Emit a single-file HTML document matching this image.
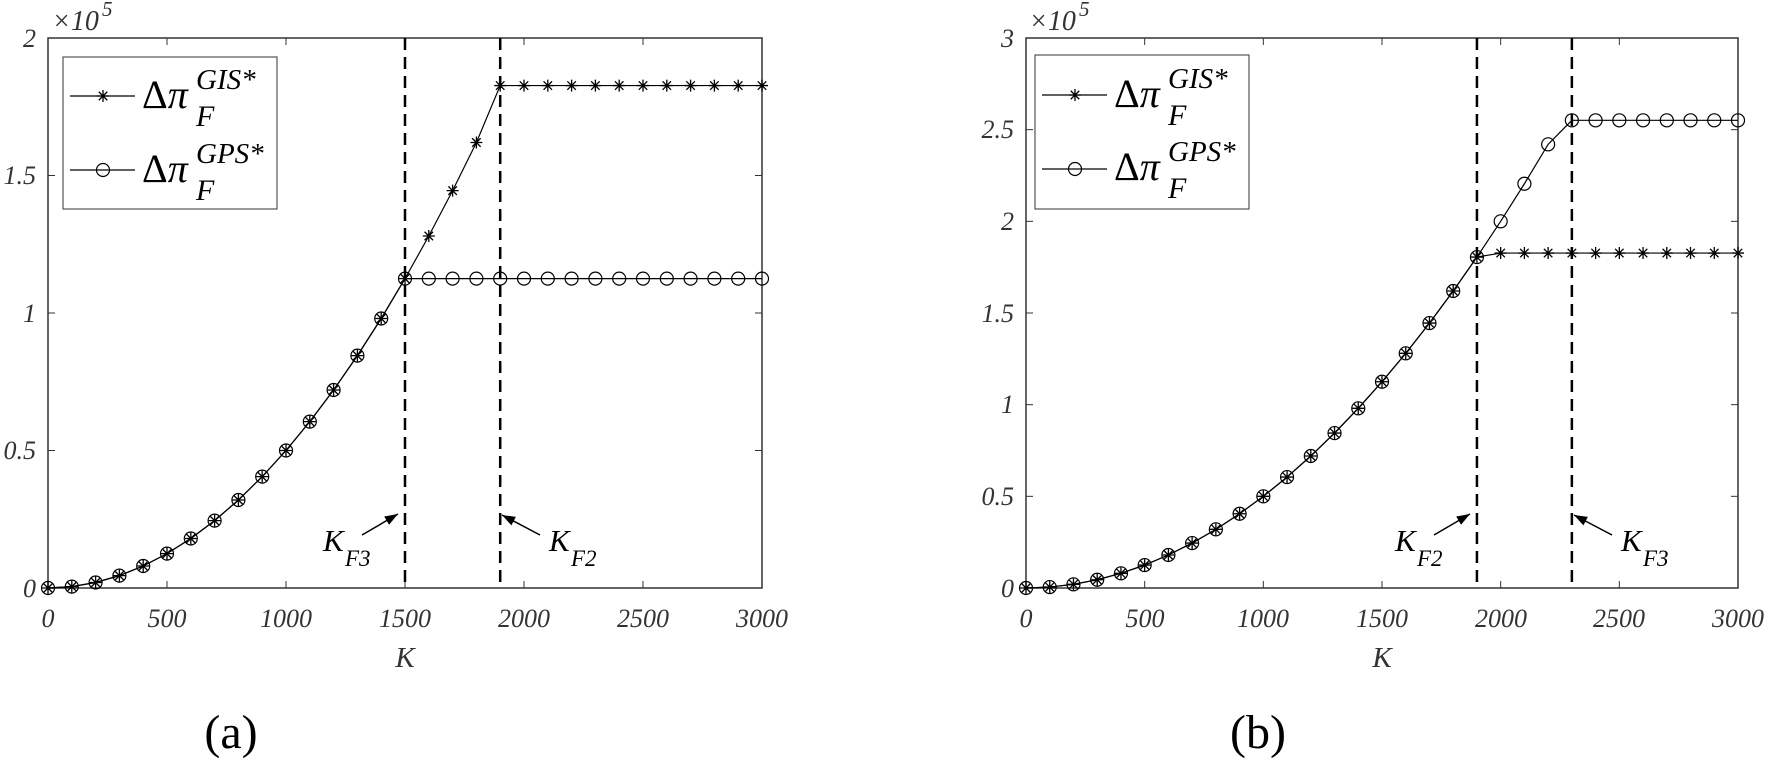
<!DOCTYPE html>
<html><head><meta charset="utf-8"><style>
html,body{margin:0;padding:0;background:#fff;}
text{font-family:"Liberation Serif","DejaVu Serif",serif !important;}
.t{font-size:26px;font-style:italic;fill:#333;}
</style></head><body>
<svg id="s" width="1769" height="761" xmlns="http://www.w3.org/2000/svg">
<g id="g"></g>
<g class="t">
<text x="36" y="47" text-anchor="end">2</text>
<text x="36" y="184" text-anchor="end">1.5</text>
<text x="36" y="322" text-anchor="end">1</text>
<text x="36" y="459" text-anchor="end">0.5</text>
<text x="36" y="597" text-anchor="end">0</text>
<text x="48" y="627" text-anchor="middle">0</text>
<text x="167" y="627" text-anchor="middle">500</text>
<text x="286" y="627" text-anchor="middle">1000</text>
<text x="405" y="627" text-anchor="middle">1500</text>
<text x="524" y="627" text-anchor="middle">2000</text>
<text x="643" y="627" text-anchor="middle">2500</text>
<text x="762" y="627" text-anchor="middle">3000</text>
<text x="405" y="667" text-anchor="middle" font-size="29">K</text>
<text x="52" y="30" font-size="28">×10</text><text x="102" y="16" font-size="21">5</text>
<text x="323" y="551" font-size="31" fill="#000">K</text><text x="345" y="566" font-size="23" fill="#000">F3</text>
<text x="549" y="551" font-size="31" fill="#000">K</text><text x="571" y="566" font-size="23" fill="#000">F2</text>
</g>
<g class="t">
<text x="1014" y="47" text-anchor="end">3</text>
<text x="1014" y="138" text-anchor="end">2.5</text>
<text x="1014" y="230" text-anchor="end">2</text>
<text x="1014" y="322" text-anchor="end">1.5</text>
<text x="1014" y="413" text-anchor="end">1</text>
<text x="1014" y="505" text-anchor="end">0.5</text>
<text x="1014" y="597" text-anchor="end">0</text>
<text x="1026" y="627" text-anchor="middle">0</text>
<text x="1145" y="627" text-anchor="middle">500</text>
<text x="1263" y="627" text-anchor="middle">1000</text>
<text x="1382" y="627" text-anchor="middle">1500</text>
<text x="1501" y="627" text-anchor="middle">2000</text>
<text x="1619" y="627" text-anchor="middle">2500</text>
<text x="1738" y="627" text-anchor="middle">3000</text>
<text x="1382" y="667" text-anchor="middle" font-size="29">K</text>
<text x="1029" y="30" font-size="28">×10</text><text x="1079" y="16" font-size="21">5</text>
<text x="1395" y="551" font-size="31" fill="#000">K</text><text x="1417" y="566" font-size="23" fill="#000">F2</text>
<text x="1621" y="551" font-size="31" fill="#000">K</text><text x="1643" y="566" font-size="23" fill="#000">F3</text>
</g>
<g fill="#000">
<rect x="63" y="57" width="214" height="152" fill="#fff" stroke="#555" stroke-width="1.2"/>
<text x="142" y="108" font-size="40">Δ<tspan font-style="italic">π</tspan></text>
<text x="196" y="89" font-size="29" font-style="italic">GIS*</text>
<text x="196" y="126" font-size="30" font-style="italic">F</text>
<text x="142" y="182" font-size="40">Δ<tspan font-style="italic">π</tspan></text>
<text x="196" y="163" font-size="29" font-style="italic">GPS*</text>
<text x="196" y="200" font-size="30" font-style="italic">F</text>
<rect x="1035" y="55" width="214" height="154" fill="#fff" stroke="#555" stroke-width="1.2"/>
<text x="1114" y="107" font-size="40">Δ<tspan font-style="italic">π</tspan></text>
<text x="1168" y="88" font-size="29" font-style="italic">GIS*</text>
<text x="1168" y="125" font-size="30" font-style="italic">F</text>
<text x="1114" y="180" font-size="40">Δ<tspan font-style="italic">π</tspan></text>
<text x="1168" y="161" font-size="29" font-style="italic">GPS*</text>
<text x="1168" y="198" font-size="30" font-style="italic">F</text>
</g>
<g id="lg"></g>
<text x="231" y="748" font-size="48" text-anchor="middle">(a)</text>
<text x="1258" y="748" font-size="48" text-anchor="middle">(b)</text>
</svg>
<script>
var NS="http://www.w3.org/2000/svg",g=document.getElementById("g");
function el(t,a){var e=document.createElementNS(NS,t);for(var k in a)e.setAttribute(k,a[k]);g.appendChild(e);return e;}
function star(x,y){var r=6,p="";for(var i=0;i<4;i++){var a=i*Math.PI/4;p+="M"+(x-r*Math.cos(a))+" "+(y-r*Math.sin(a))+"L"+(x+r*Math.cos(a))+" "+(y+r*Math.sin(a));}el("path",{d:p,stroke:"#000","stroke-width":1.3});}
function circ(x,y){el("circle",{cx:x,cy:y,r:6.5,fill:"none",stroke:"#000","stroke-width":1.2});}
function plot(X0,X1,ymax,f1,f2,yTicks,v1,v2){
 var Y0=588,Y1=38;
 function px(k){return X0+(X1-X0)*k/3000;} function py(v){return Y0-(Y0-Y1)*v/ymax;}
 el("rect",{x:X0,y:Y1,width:X1-X0,height:Y0-Y1,fill:"none",stroke:"#333","stroke-width":1.5});
 for(var k=500;k<3000;k+=500){el("line",{x1:px(k),x2:px(k),y1:Y0,y2:Y0-7,stroke:"#333"});el("line",{x1:px(k),x2:px(k),y1:Y1,y2:Y1+7,stroke:"#333"});}
 yTicks.forEach(function(v){el("line",{x1:X0,x2:X0+7,y1:py(v),y2:py(v),stroke:"#333"});el("line",{x1:X1,x2:X1-7,y1:py(v),y2:py(v),stroke:"#333"});});
 [v1,v2].forEach(function(k){el("line",{x1:px(k),x2:px(k),y1:Y1,y2:Y0,stroke:"#000","stroke-width":2.5,"stroke-dasharray":"12,7"});});
 [f1,f2].forEach(function(f,i){var d="";for(var k=0;k<=3000;k+=100)d+=(k?"L":"M")+px(k)+" "+py(f(k));el("path",{d:d,fill:"none",stroke:"#000","stroke-width":1.2});
  for(var k=0;k<=3000;k+=100){i?circ(px(k),py(f(k))):star(px(k),py(f(k)));}});
}
plot(48,762,2e5,function(k){return k<1900?0.05*k*k:1.827e5;},function(k){return k<=1500?0.05*k*k:1.125e5;},[0.5e5,1e5,1.5e5],1500,1900);
plot(1026,1738,3e5,function(k){return k<=1900?0.05*k*k:1.827e5;},function(k){return k<=2200?0.05*k*k:2.551e5;},[0.5e5,1e5,1.5e5,2e5,2.5e5],1900,2300);
function arrow(x1,y1,x2,y2){el("line",{x1:x1,y1:y1,x2:x2,y2:y2,stroke:"#000","stroke-width":1.5});var a=Math.atan2(y2-y1,x2-x1),L=14,w=0.35;
 el("path",{d:"M"+x2+" "+y2+"L"+(x2-L*Math.cos(a-w))+" "+(y2-L*Math.sin(a-w))+"L"+(x2-L*Math.cos(a+w))+" "+(y2-L*Math.sin(a+w))+"Z",fill:"#000"});}
arrow(362,535,398,514);arrow(540,535,502,515);
arrow(1434,535,1470,514);arrow(1612,535,1574,515);
g=document.getElementById("lg");
[[63,96,0],[63,170,1],[1035,95,0],[1035,169,1]].forEach(function(a){el("line",{x1:a[0]+7,x2:a[0]+72,y1:a[1],y2:a[1],stroke:"#000","stroke-width":1.2});a[2]?circ(a[0]+40,a[1]):star(a[0]+40,a[1]);});
</script>
</body></html>
